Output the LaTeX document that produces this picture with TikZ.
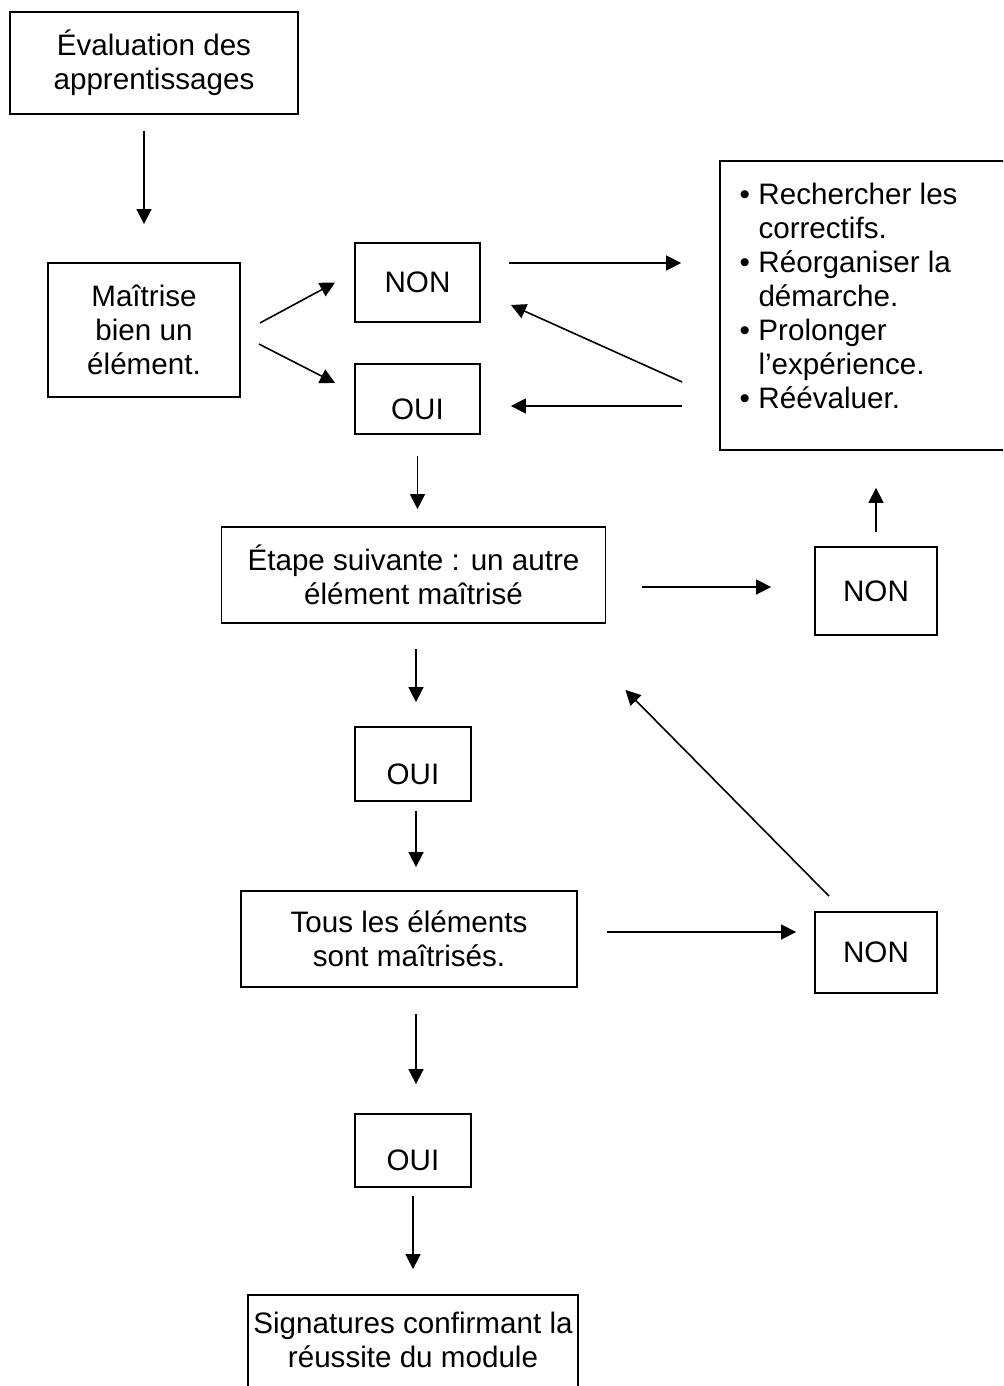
\documentclass[tikz,border=0pt]{standalone}
\usepackage{fontspec}
\setmainfont{Liberation Sans}
\usetikzlibrary{arrows.meta,calc}
\begin{document}
\begin{tikzpicture}[x=0.5pt,y=-0.5pt,
  txt/.style={font=\fontsize{14.8pt}{17pt}\selectfont},
  box/.style={draw, line width=0.9pt, align=center, inner sep=0pt, txt},
  oui/.style={box, text height=20.5pt},
  arr/.style={line width=0.8pt, -{Triangle[length=7.5pt,width=7.5pt]}}]
\useasboundingbox (0,0) rectangle (1003,1386);
\fill[white] (0,0) rectangle (1003,1386);
\clip (0,0) rectangle (1003,1386);

\node[box, minimum width=144pt, minimum height=51pt] (eval) at (154,63) {Évaluation des\\apprentissages};
\node[box, minimum width=96pt, minimum height=67pt] (m) at (144,330) {Maîtrise\\bien un\\élément.};
\node[box, minimum width=62.5pt, minimum height=39.5pt] (non1) at (417.5,282.5) {NON};
\node[oui, minimum width=62.5pt, minimum height=35pt] (oui1) at (417.5,399) {OUI};
\node[box, minimum width=190pt, minimum height=144.5pt,
  label={[anchor=north west, inner sep=0pt, xshift=10pt, yshift=-10pt, align=left, txt]north west:{%
\begin{tabular}{@{}l@{}l@{}}
\makebox[9.5pt][l]{\textbullet} & Rechercher les\\
 & correctifs.\\
\makebox[9.5pt][l]{\textbullet} & Réorganiser la\\
 & démarche.\\
\makebox[9.5pt][l]{\textbullet} & Prolonger\\
 & l’expérience.\\
\makebox[9.5pt][l]{\textbullet} & Réévaluer.
\end{tabular}}}] (list) at (910,305.5) {};
\node[box, minimum width=192pt, minimum height=48pt] (etape) at (413.5,575) {Étape suivante : un autre\\élément maîtrisé};
\node[box, minimum width=61pt, minimum height=44pt] (non2) at (876,591) {NON};
\node[oui, minimum width=58pt, minimum height=37pt] (oui2) at (413,764) {OUI};
\node[box, minimum width=168pt, minimum height=48pt] (tous) at (409,939) {Tous les éléments\\sont maîtrisés.};
\node[box, minimum width=61pt, minimum height=40.5pt] (non3) at (876,952.5) {NON};
\node[oui, minimum width=58pt, minimum height=36.5pt] (oui3) at (413,1150.5) {OUI};
\node[box, minimum width=165pt, minimum height=102.5pt,
  label={[anchor=north, inner sep=0pt, yshift=-9pt, align=center, txt]north:{Signatures confirmant la\\réussite du module}}] (sig) at (413,1397.5) {};

\draw[arr, shorten <=8pt, shorten >=19pt] (eval.south -| m.north) -- (m.north);
\draw[arr] ($(m.east)+(19,-7)$) -- ($(non1.west)+(-19,0)$);
\draw[arr] ($(m.east)+(18,14)$) -- ($(oui1.west)+(-19,-16)$);
\draw[arr] ($(non1.east)+(28,-19.5)$) -- ($(list.west)+(-38,-42.5)$);
\draw[arr] ($(list.west)+(-37,76.5)$) -- ($(non1.east)+(30,22.5)$);
\draw[arr] ($(list.west)+(-37,100.5)$) -- ($(oui1.east)+(30,7)$);
\draw[arr, shorten <=10.5pt, shorten >=8.5pt] (oui1.south) -- (oui1.south |- etape.north);
\draw[arr] ($(etape.east)+(36,12)$) -- ($(non2.west)+(-43,-4)$);
\draw[arr, shorten <=7pt, shorten >=18.5pt] (non2.north) -- (non2.north |- list.south);
\draw[arr, shorten <=12.5pt, shorten >=12pt] ($(oui2.north |- etape.south)+(3,0)$) -- ($(oui2.north)+(3,0)$);
\draw[arr, shorten <=4.5pt, shorten >=11.5pt] ($(oui2.south)+(3,0)$) -- ($(oui2.south |- tous.north)+(3,0)$);
\draw[arr] ($(tous.east)+(29,-7)$) -- ($(non3.west)+(-18,-20.5)$);
\draw[arr] ($(non3.north)+(-47,-15)$) -- ($(etape.south east)+(19,66)$);
\draw[arr, shorten <=13pt, shorten >=14.5pt] ($(tous.south -| oui3.north)+(3,0)$) -- ($(oui3.north)+(3,0)$);
\draw[arr, shorten <=4pt, shorten >=12.5pt] (oui3.south) -- (oui3.south |- sig.north);
\end{tikzpicture}
\end{document}
